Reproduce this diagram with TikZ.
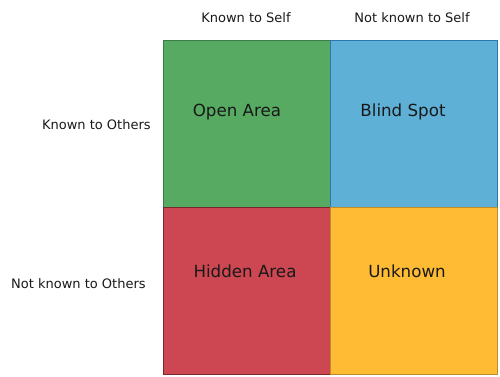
\documentclass[tikz,border=0pt]{standalone}
\usepackage{fontspec}
\setmainfont{DejaVu Sans}
\definecolor{cgreen}{RGB}{86,170,98}
\definecolor{cgreenb}{RGB}{60,125,70}
\definecolor{cblue}{RGB}{94,176,214}
\definecolor{cblueb}{RGB}{40,120,170}
\definecolor{cred}{RGB}{204,71,81}
\definecolor{credb}{RGB}{120,40,45}
\definecolor{cyellow}{RGB}{255,187,51}
\definecolor{cyellowb}{RGB}{190,140,40}
\tikzset{
  quad/.style={draw, line width=0.6pt, minimum width=167*0.02cm, minimum height=167*0.02cm, inner sep=0pt, anchor=north west},
  qlabel/.style={font=\fontsize{9.5}{11}\selectfont, text=black!90, inner sep=0pt},
  axlabel/.style={font=\fontsize{7.4}{9}\selectfont, text=black!90, inner sep=0pt}
}
\begin{document}
\begin{tikzpicture}[x=0.02cm,y=-0.02cm]
\useasboundingbox (0,0) rectangle (500,377);
\node[quad, fill=cgreen, draw=cgreenb] (open) at (163,40) {};
\node[quad, fill=cblue, draw=cblueb] (blind) at (330,40) {};
\node[quad, fill=cred, draw=credb] (hidden) at (163,207) {};
\node[quad, fill=cyellow, draw=cyellowb] (unknown) at (330,207) {};
\node[qlabel] (topen) at (237,112) {Open Area};
\node[qlabel] (tblind) at (403,112) {Blind Spot};
\node[qlabel] (thidden) at (245,271) {Hidden Area};
\node[qlabel] (tunknown) at (407,271) {Unknown};
\node[axlabel] (ks) at (246,18) {Known to Self};
\node[axlabel] (nks) at (412,18) {Not known to Self};
\node[axlabel, anchor=east] (ko) at (151,125) {Known to Others};
\node[axlabel, anchor=east] (nko) at (146,284) {Not known to Others};
\end{tikzpicture}
\end{document}
